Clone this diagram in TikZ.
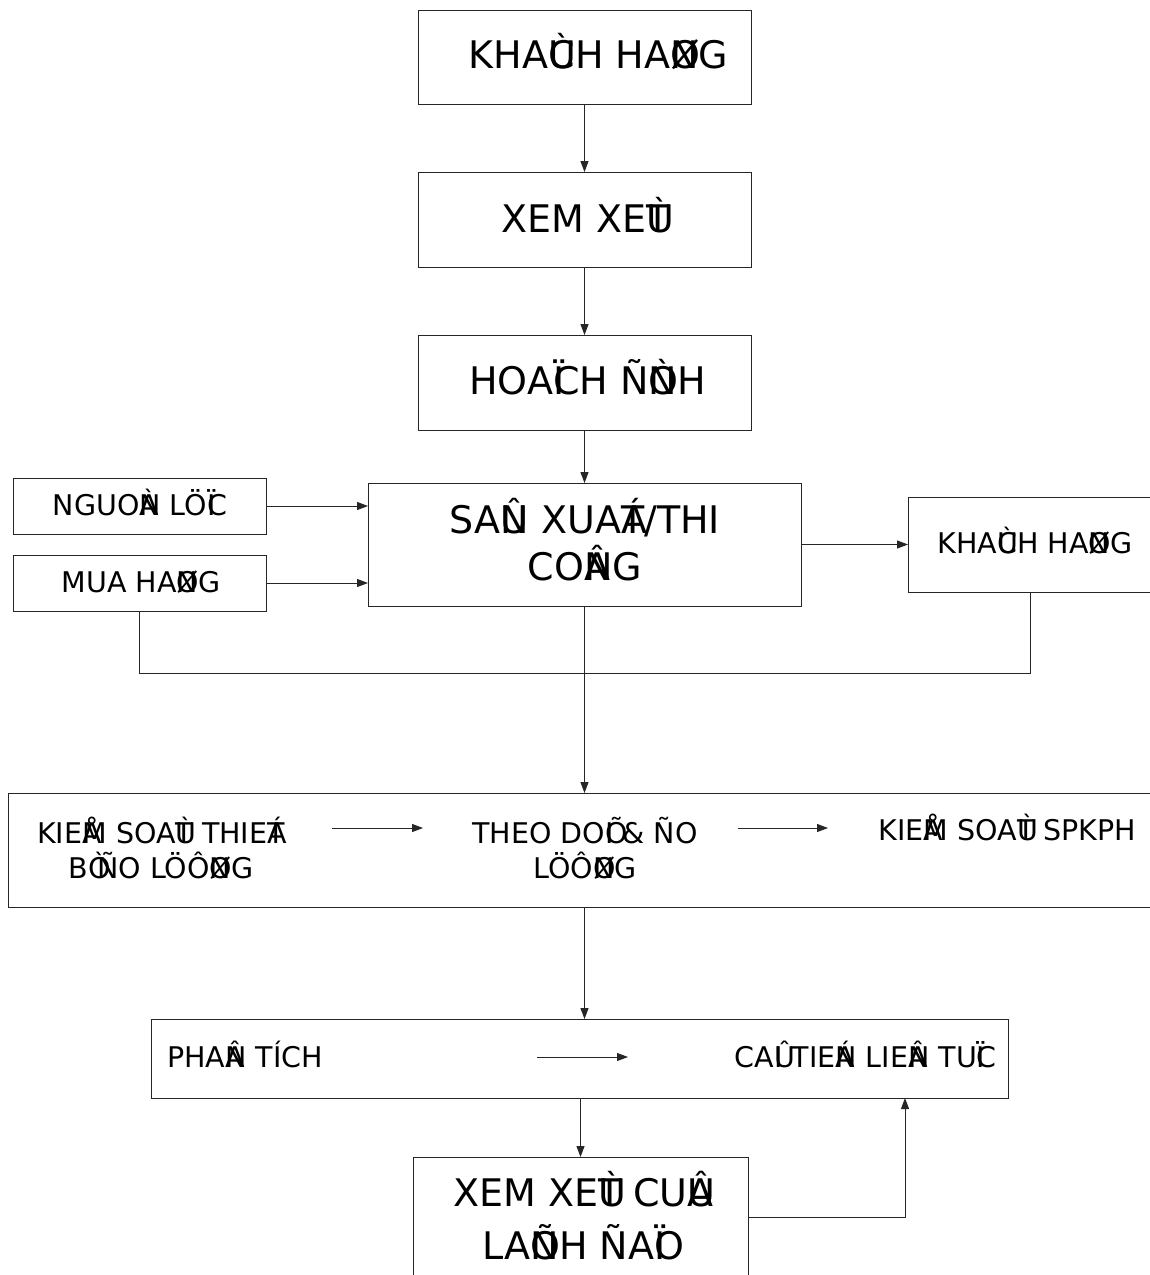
\documentclass[tikz,border=0pt]{standalone}
\usepackage{fontspec}
\setmainfont{DejaVu Sans}
\usetikzlibrary{arrows.meta}
\newcommand\accov[2]{\rlap{#1}#2}
\begin{document}
\begin{tikzpicture}[x=1pt,y=-1pt,
  box/.style={draw=black!85, line width=1pt, inner sep=0pt, outer sep=0pt},
  bigtxt/.style={font=\fontsize{38}{47}\selectfont, inner sep=0pt, align=center},
  smltxt/.style={font=\fontsize{28.5}{35}\selectfont, inner sep=0pt, align=center},
  conn/.style={draw=black!85, line width=1pt, -{Triangle[length=11pt,width=8pt]}},
  plainline/.style={draw=black!85, line width=1pt}]
\useasboundingbox (0,0) rectangle (1150,1275);
\fill[white] (0,0) rectangle (1150,1275);
% boxes
\node[box, minimum width=333pt, minimum height=94pt] (kh1) at (584.5,57) {};
\node[box, minimum width=333pt, minimum height=95pt] (xx) at (584.5,219.5) {};
\node[box, minimum width=333pt, minimum height=95pt] (hd) at (584.5,382.5) {};
\node[box, minimum width=253pt, minimum height=56pt] (ng) at (139.5,506) {};
\node[box, minimum width=253pt, minimum height=56pt] (mh) at (139.5,583) {};
\node[box, minimum width=433pt, minimum height=123pt] (sx) at (584.5,544.5) {};
\node[box, minimum width=244pt, minimum height=95pt] (kh2) at (1030,544.5) {};
\node[box, minimum width=1152pt, minimum height=114pt] (kt) at (584,850) {};
\node[box, minimum width=857pt, minimum height=79pt] (pt) at (579.5,1058.5) {};
\node[box, minimum width=335pt, minimum height=120pt] (ld) at (580.5,1217) {};
% texts
\node[bigtxt, anchor=base] (t1) at (598.5,68) {KHA\accov{Ù}CH HA\accov{Ø}NG};
\node[bigtxt, anchor=base] (t2) at (586,232) {XEM XE\accov{Ù}T};
\node[bigtxt, anchor=base] (t3) at (587.5,394) {HOA\accov{Ï}CH Ñ\accov{Ò}NH};
\node[smltxt, anchor=base] (t4) at (140,515) {NGUO\accov{À}N LÖ\accov{Ï}C};
\node[smltxt, anchor=base] (t5) at (141,592) {MUA HA\accov{Ø}NG};
\node[bigtxt, anchor=base] (t6) at (585,580) {SA\accov{Û}N XUA\accov{Á}T/THI\\CO\accov{Â}NG};
\node[smltxt, anchor=base] (t7) at (1035,553) {KHA\accov{Ù}CH HA\accov{Ø}NG};
\node[smltxt, anchor=base] (t8) at (161,878) {KIE\accov{Å}M SOA\accov{Ù}T THIE\accov{Á}T\\B\accov{Ò}{\ }ÑO LÖÔ\accov{Ø}NG};
\node[smltxt, anchor=base] (t9) at (585,878) {THEO DO\accov{Õ}I \& ÑO\\LÖÔ\accov{Ø}NG};
\node[smltxt, anchor=base] (t10) at (1007.5,840) {KIE\accov{Å}M SOA\accov{Ù}T SPKPH};
\node[smltxt, anchor=base west] (t11) at (167,1067) {PHA\accov{Â}N TÍCH};
\node[smltxt, anchor=base east] (t12) at (997,1067) {CA\accov{Û}I TIE\accov{Á}N LIE\accov{Â}N TU\accov{Ï}C};
\node[bigtxt, font=\fontsize{38}{53}\selectfont, anchor=base] (t13) at (583.5,1259) {XEM XE\accov{Ù}T CU\accov{Û}A\\LA\accov{Õ}NH ÑA\accov{Ï}O};
% coordinates
\coordinate (a1s) at (332,828);
\coordinate (a1e) at (423,828);
\coordinate (a2s) at (738,828);
\coordinate (a2e) at (828,828);
\coordinate (a3s) at (537,1057);
\coordinate (a3e) at (628,1057);
\coordinate (fb) at (905,0);
% connectors
\draw[conn] (kh1.south) -- (xx.north);
\draw[conn] (xx.south) -- (hd.north);
\draw[conn] (hd.south) -- (sx.north);
\draw[conn] (ng.east) -- (ng.east -| sx.west);
\draw[conn] (mh.east) -- (mh.east -| sx.west);
\draw[conn] (sx.east) -- (kh2.west);
\draw[plainline] (mh.south) -- ++(0,62) -| (kh2.south);
\draw[conn] (sx.south) -- (sx.south |- kt.north);
\draw[conn] (sx.south |- kt.south) -- (sx.south |- pt.north);
\draw[conn] (ld.north |- pt.south) -- (ld.north);
\draw[conn] (ld.east) -| (fb |- pt.south);
\draw[conn] (a1s) -- (a1e);
\draw[conn] (a2s) -- (a2e);
\draw[conn] (a3s) -- (a3e);
\end{tikzpicture}
\end{document}
